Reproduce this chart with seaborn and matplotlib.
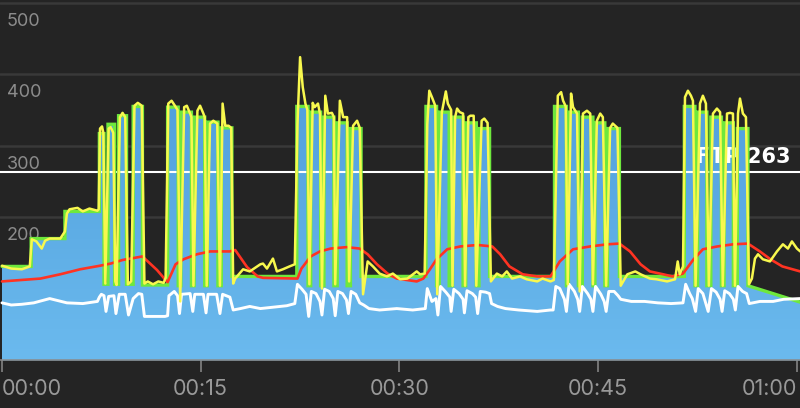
import numpy as np
import matplotlib
matplotlib.use('Agg')
import matplotlib.pyplot as plt
import seaborn as sns
import pandas as pd
from matplotlib.colors import LinearSegmentedColormap

# ---------------- data (minutes / watts) ----------------
step_times = [0, 2.2, 4.75, 7.35, 7.7, 8.0, 8.5, 8.8, 9.4, 9.9, 10.6, 12.5,
              13.3, 13.5, 14.3, 14.5, 15.3, 15.5, 16.3, 16.55, 17.35, 22.25,
              23.1, 23.3, 24.05, 24.3, 25.05, 25.3, 26.05, 26.3, 27.1, 32.0,
              32.8, 33.0, 33.75, 34.0, 34.8, 35.0, 35.8, 36.0, 36.8, 41.7,
              42.6, 42.75, 43.5, 43.8, 44.6, 44.75, 45.5, 45.7, 46.6, 51.5,
              52.3, 52.5, 53.2, 53.5, 54.3, 54.5, 55.2, 55.5, 56.3]
step_watts = [131, 170, 208, 317, 106, 330, 106, 342, 106, 355, 105,
              354, 104, 347, 104, 340, 104, 333, 104, 325, 117,
              355, 104, 347, 104, 340, 104, 332, 104, 324, 117,
              355, 104, 347, 104, 340, 104, 332, 104, 324, 117,
              355, 104, 347, 104, 340, 104, 332, 104, 324, 117,
              355, 104, 347, 104, 340, 104, 332, 104, 324]
cool_t = [56.3, 60.25]
cool_w = [104, 81]

power_t = [0, 0.7, 1.5, 2.1, 2.25, 2.6, 3.0, 3.25, 3.6, 4.4, 4.75, 4.9, 5.1, 5.7, 6.1, 6.6, 7.2,
           7.3, 7.4, 7.55, 7.65, 7.8, 8.05, 8.2, 8.4, 8.55, 8.65, 8.9, 9.1, 9.3, 9.5, 9.75, 10.0, 10.25, 10.55, 10.75,
           11.0, 11.4, 11.8, 12.2, 12.35,
           12.55, 12.8, 13.05, 13.25, 13.45, 13.75, 13.95, 14.2, 14.3, 14.45, 14.75, 14.95, 15.2, 15.3, 15.45,
           15.7, 15.95, 16.25, 16.45, 16.65, 16.85, 17.1, 17.3, 17.45,
           17.6, 18.2, 18.7, 19.5, 19.7, 20.0, 20.45, 20.75, 21.2, 21.7, 22.1,
           22.3, 22.5, 22.7, 22.9, 23.05, 23.2, 23.45, 23.6, 23.85, 24.0, 24.15, 24.4, 24.6, 24.9, 25.05, 25.15,
           25.5, 25.75, 26.05, 26.2, 26.5, 26.8, 27.0, 27.25,
           27.6, 28.0, 28.5, 29.05, 29.5, 30.05, 30.6, 31.3, 31.55, 31.9,
           32.1, 32.25, 32.45, 32.7, 32.85, 33.2, 33.5, 33.65, 33.9, 34.0, 34.2, 34.35, 34.55, 34.8, 34.95,
           35.2, 35.35, 35.6, 35.8, 36.2, 36.4, 36.65, 36.9,
           37.35, 37.75, 38.1, 38.5, 39.1, 39.6, 40.4, 40.8, 41.4, 41.65,
           41.95, 42.2, 42.35, 42.55, 42.7, 42.95, 43.1, 43.4, 43.6, 43.85, 44.15, 44.4, 44.6,
           44.9, 45.15, 45.35, 45.6, 45.9, 46.1, 46.45, 46.7,
           47.2, 47.8, 48.2, 48.9, 49.4, 50.2, 50.8, 51.0, 51.15, 51.4,
           51.55, 51.77, 52.0, 52.15, 52.35, 52.68, 52.9, 53.13, 53.35, 53.66, 53.96, 54.2, 54.4,
           54.72, 54.95, 55.17, 55.32, 55.55, 55.7, 55.92, 56.15, 56.38,
           56.6, 56.83, 57.06, 57.43, 57.96, 58.49, 58.94, 59.32, 59.62, 60.0, 60.25]
power_w = [132, 128, 127, 131, 169, 166, 156, 167, 170, 170, 180, 205, 211, 213, 208, 212, 209,
           211, 324, 327, 318, 107, 324, 326, 318, 110, 105, 340, 346, 340, 106, 110, 356, 360, 356, 107,
           110, 106, 110, 108, 115,
           359, 363, 356, 350, 82, 354, 356, 345, 340, 104, 349, 356, 345, 340, 104,
           331, 335, 331, 104, 359, 328, 328, 325, 107,
           114, 127, 124, 134, 135, 128, 142, 124, 127, 131, 134,
           330, 424, 382, 359, 350, 106, 360, 354, 359, 345, 100, 370, 345, 346, 340, 106,
           363, 340, 340, 110, 328, 335, 325, 92,
           138, 131, 121, 117, 121, 113, 114, 124, 120, 121,
           330, 377, 368, 356, 92, 347, 376, 359, 350, 104, 340, 352, 347, 345, 104,
           340, 342, 342, 104, 335, 338, 332, 110,
           121, 117, 124, 114, 117, 113, 110, 114, 110, 112,
           370, 375, 363, 355, 106, 373, 354, 345, 96, 345, 349, 345, 106,
           335, 345, 340, 104, 325, 331, 325, 104,
           120, 124, 120, 114, 113, 110, 113, 138, 120, 131,
           368, 377, 370, 363, 104, 359, 370, 359, 104, 345, 352, 347, 104,
           345, 346, 345, 104, 345, 366, 345, 340, 106,
           114, 142, 148, 141, 138, 152, 162, 156, 166, 156, 152]

avg_t = [0, 2.9, 4.4, 5.9, 7.4, 8.2, 9.1, 10.6, 11.7, 12.3, 12.5, 13.1, 13.7, 14.7, 15.7, 17.2, 17.6,
         18.5, 19.3, 19.7, 22.3, 22.6, 23.3, 24.0, 24.8, 26.0, 27.0, 27.6, 28.3, 29.1, 29.8, 31.3,
         31.8, 32.3, 32.8, 33.6, 34.6, 35.9, 37.0, 37.6, 38.3, 39.3, 40.4, 41.4, 42.1, 43.1, 44.4,
         45.7, 46.6, 47.4, 48.2, 48.9, 49.9, 50.6, 51.4, 52.2, 52.9, 54.0, 55.2, 56.3, 57.2, 58.0,
         58.9, 60.25]
avg_w = [110, 114, 120, 127, 132, 135, 140, 145, 126, 113, 109, 134, 141, 148, 152, 152, 154,
         130, 117, 115, 114, 128, 145, 152, 156, 158, 156, 148, 134, 121, 114, 110,
         114, 127, 141, 155, 159, 161, 159, 148, 131, 120, 117, 117, 138, 155, 159,
         162, 163, 152, 134, 124, 120, 117, 121, 141, 155, 159, 162, 163, 152, 141,
         131, 124]

cad_t = [0, 0.7, 1.5, 2.4, 3.6, 4.9, 6.1, 7.2,
         7.35, 7.5, 7.7, 7.85, 8.05, 8.45, 8.6, 8.85, 9.3, 9.55, 9.9, 10.3, 10.55, 10.75, 11.5, 12.3,
         12.5, 12.6, 13.0, 13.25, 13.4, 13.55, 14.2, 14.4, 14.55, 15.2, 15.4, 15.55, 16.2, 16.45,
         16.65, 17.2, 17.45, 18.0, 18.7, 19.5, 20.5, 21.5, 22.1,
         22.3, 22.65, 22.95, 23.15, 23.35, 23.7, 24.0, 24.15, 24.35, 24.7, 25.0, 25.15, 25.35, 25.7,
         26.0, 26.15, 26.35, 26.7, 27.0, 27.3, 27.7, 28.5, 29.8, 31.0, 31.95,
         32.1, 32.45, 32.75, 32.9, 33.1, 33.5, 33.8, 33.9, 34.1, 34.5, 34.8, 34.9, 35.1, 35.5, 35.75,
         35.9, 36.1, 36.5, 36.8, 36.95, 37.4, 38.0, 39.0, 40.4, 41.4, 41.6,
         41.8, 42.1, 42.45, 42.6, 42.8, 43.2, 43.45, 43.6, 43.8, 44.2, 44.45, 44.6, 44.8, 45.2, 45.45,
         45.6, 45.8, 46.2, 46.5, 46.7, 47.5, 48.5, 49.5, 50.5, 51.4,
         51.6, 51.9, 52.1, 52.35, 52.55, 52.9, 53.3, 53.55, 53.9, 54.2, 54.35, 54.55, 54.9, 55.2,
         55.35, 55.55, 55.9, 56.2, 56.4, 57.2, 58.2, 59.0, 60.25]
cad_v = [80, 77, 78, 80, 86, 80, 79, 82,
         88, 92, 90, 68, 89, 90, 65, 92, 92, 63, 86, 93, 92, 61, 61, 61,
         62, 90, 96, 90, 65, 92, 93, 68, 92, 92, 66, 92, 92, 65,
         92, 88, 70, 72, 75, 72, 74, 76, 79,
         106, 99, 92, 61, 96, 93, 82, 63, 99, 96, 86, 62, 96, 93,
         84, 65, 96, 92, 80, 77, 72, 70, 72, 70, 72,
         100, 82, 86, 63, 103, 95, 88, 68, 99, 93, 85, 66, 97, 93, 88,
         65, 96, 95, 93, 79, 75, 72, 70, 68, 70, 70,
         103, 100, 85, 68, 106, 96, 85, 68, 103, 93, 85, 68, 103, 92, 82,
         68, 96, 96, 90, 85, 82, 82, 80, 79, 80,
         106, 93, 86, 68, 100, 93, 68, 100, 95, 85, 68, 97, 93, 85,
         70, 103, 96, 93, 79, 82, 82, 85, 86]

ftp = 263
y_ticks = [200, 300, 400, 500]
x_ticks = [0, 15, 30, 45, 60]
x_labels = ['00:00', '00:15', '00:30', '00:45', '01:00']

# ---------------- styling ----------------
BG = '#242424'
sns.set_theme(style='dark')
plt.rcParams['font.family'] = ['Inter', 'DejaVu Sans']

fig = plt.figure(figsize=(8, 4.08), dpi=100)
fig.patch.set_facecolor(BG)
ax = fig.add_axes([0, 48 / 408, 1, 360 / 408])
ax.set_facecolor(BG)
XMIN, XMAX = -0.15, 60.23
YMIN, YMAX = 0, 504
ax.set_xlim(XMIN, XMAX)
ax.set_ylim(YMIN, YMAX)
ax.grid(False)

# gridlines + inside y labels
for v in y_ticks:
    ax.axhline(v, color='#393939', lw=1.8, zorder=0.5)
    ax.annotate(str(v), xy=(0, v), xycoords=('axes fraction', 'data'),
                xytext=(7, -23), textcoords='offset pixels', fontsize=13,
                color='#8c8c8c', ha='left', va='baseline', zorder=0.6)

# target (workout) area
tx, tw = [], []
for i, w in enumerate(step_watts):
    tx += [step_times[i], step_times[i + 1]]
    tw += [w, w]
tx += cool_t
tw += cool_w

poly = ax.fill_between(tx, 0, tw, color='#5fade6', lw=0, zorder=1)
cmap = LinearSegmentedColormap.from_list('b', ['#6bbaee', '#509fdc'])
grad = np.linspace(0, 1, 256).reshape(-1, 1)
im = ax.imshow(grad, extent=[XMIN, XMAX, 0, 380], origin='lower', aspect='auto',
               cmap=cmap, zorder=1.1)
im.set_clip_path(poly.get_paths()[0], ax.transData)
ax.set_xlim(XMIN, XMAX)
ax.set_ylim(YMIN, YMAX)

# FTP line and label
ax.axhline(ftp, color='white', lw=1.5, zorder=2.4)
ax.annotate(f'FTP {ftp}', xy=(1, ftp), xycoords=('axes fraction', 'data'),
            xytext=(-10, 9), textcoords='offset pixels', fontsize=15,
            fontweight='bold', color='white', ha='right', va='baseline',
            zorder=2.5, family=['DejaVu Sans'])

# outline
ax.plot(tx, tw, color='#6ee83c', lw=2.4, zorder=3, solid_joinstyle='miter')

df_cad = pd.DataFrame({'t': cad_t, 'v': cad_v})
df_avg = pd.DataFrame({'t': avg_t, 'v': avg_w})
df_pow = pd.DataFrame({'t': power_t, 'v': power_w})
sns.lineplot(data=df_cad, x='t', y='v', ax=ax, color='white', lw=2.1,
             estimator=None, sort=False, zorder=4)
sns.lineplot(data=df_avg, x='t', y='v', ax=ax, color='#ff3322', lw=1.9,
             estimator=None, sort=False, zorder=5)
sns.lineplot(data=df_pow, x='t', y='v', ax=ax, color='#f8f84e', lw=1.8,
             estimator=None, sort=False, zorder=6)

ax.set_xlim(XMIN, XMAX)
ax.set_ylim(YMIN, YMAX)
ax.set_xlabel('')
ax.set_ylabel('')

for s in ['top', 'left', 'right']:
    ax.spines[s].set_visible(False)
ax.spines['bottom'].set_color('#8a8a8a')
ax.spines['bottom'].set_linewidth(1.1)

ax.set_yticks([])
ax.set_xticks(x_ticks)
ax.set_xticklabels(x_labels)
ax.tick_params(axis='x', direction='out', length=8.6, width=1.1, color='#8a8a8a',
               labelsize=15.5, labelcolor='#999999', pad=5, bottom=True)
labs = ax.get_xticklabels()
labs[0].set_ha('left')
labs[-1].set_ha('right')

fig.savefig('out.png', dpi=100, facecolor=BG)
